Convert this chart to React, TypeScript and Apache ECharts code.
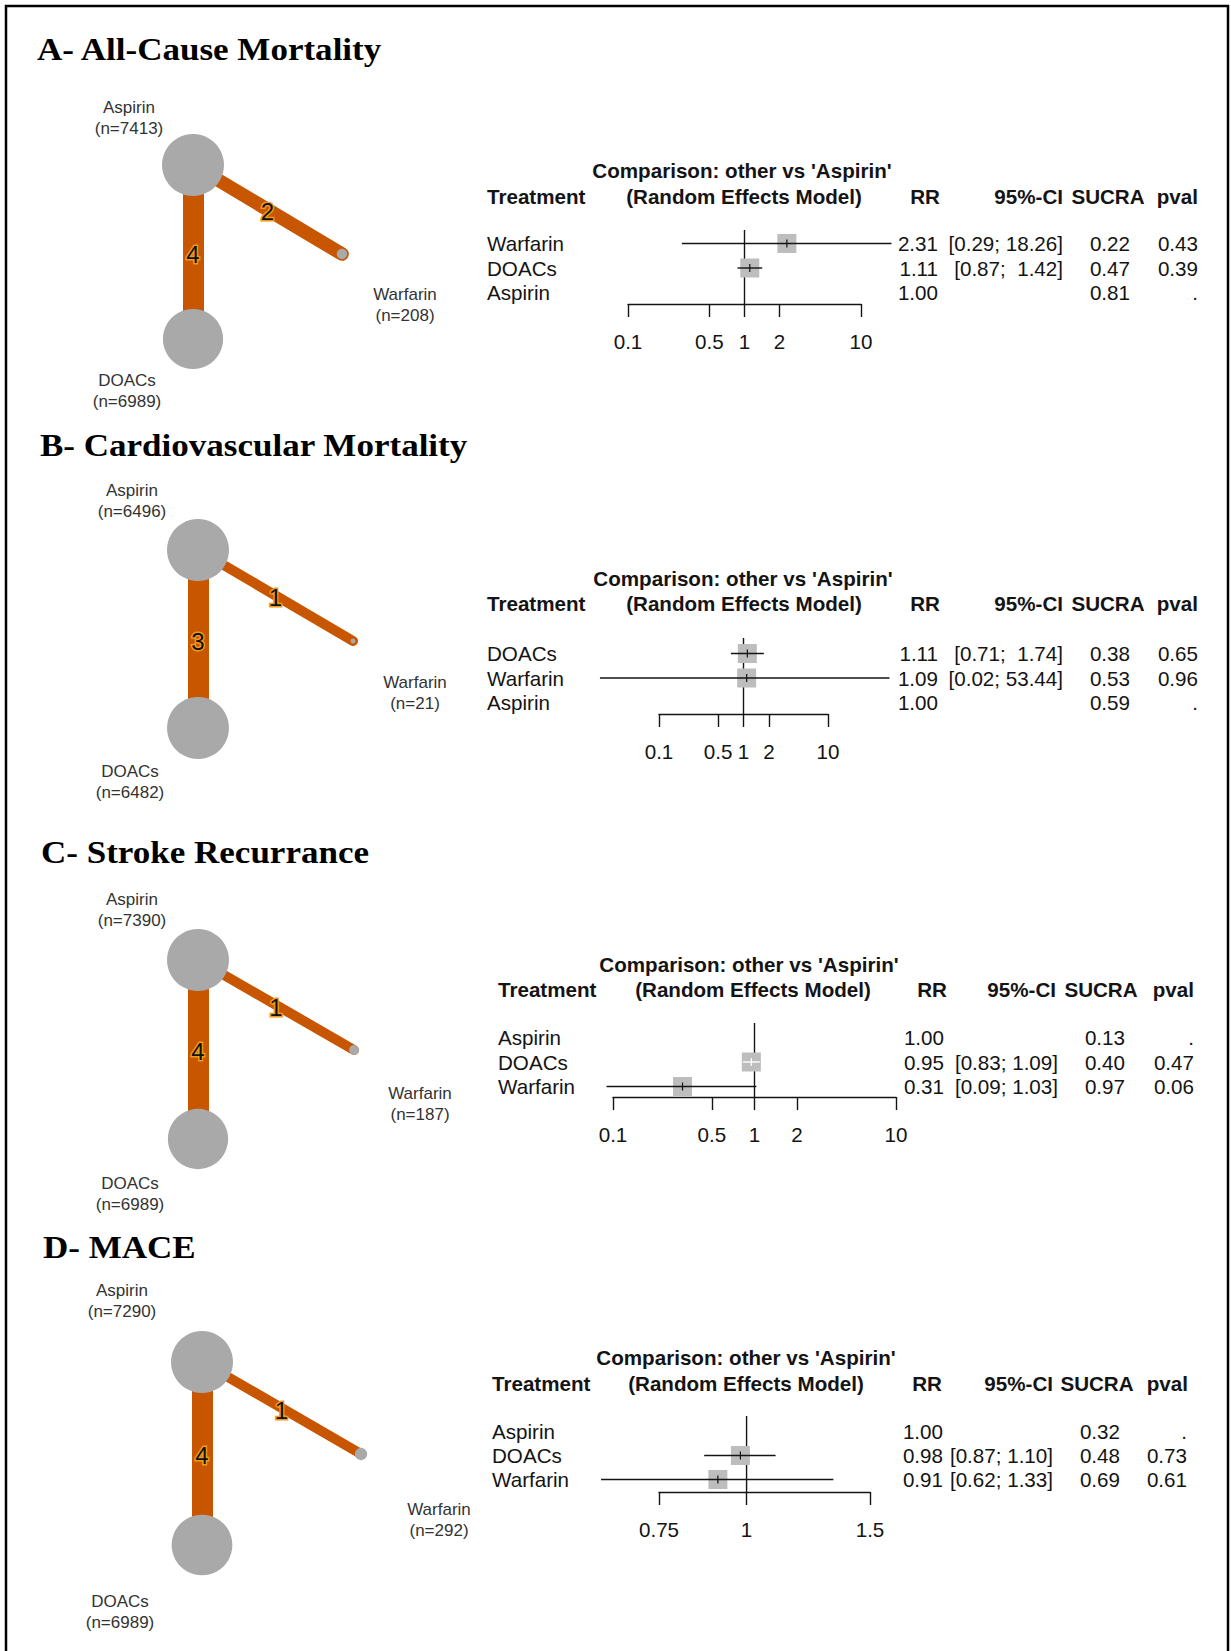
import React, { useEffect, useRef } from 'react';
import * as echarts from 'echarts';

// ---------------- DATA ----------------
const titles = ['A- All-Cause Mortality', 'B- Cardiovascular Mortality', 'C- Stroke Recurrance', 'D- MACE'];

// network graphs: nodes (Aspirin, DOACs, Warfarin) with sample sizes, edges with number of studies
const nodeNames = ['Aspirin', 'DOACs', 'Warfarin'];
const edgePairs = [[0, 1], [0, 2]];
const nA = [7413, 6989, 208];
const nB = [6496, 6482, 21];
const nC = [7390, 6989, 187];
const nD = [7290, 6989, 292];
const studiesA = [4, 2];
const studiesB = [3, 1];
const studiesC = [4, 1];
const studiesD = [4, 1];

// forest plots
const treatA = ['Warfarin', 'DOACs', 'Aspirin'];
const rrA = [2.31, 1.11, 1.0];
const loA = [0.29, 0.87, null];
const hiA = [18.26, 1.42, null];
const sucraA = [0.22, 0.47, 0.81];
const pvalA = [0.43, 0.39, null];

const treatB = ['DOACs', 'Warfarin', 'Aspirin'];
const rrB = [1.11, 1.09, 1.0];
const loB = [0.71, 0.02, null];
const hiB = [1.74, 53.44, null];
const sucraB = [0.38, 0.53, 0.59];
const pvalB = [0.65, 0.96, null];

const treatC = ['Aspirin', 'DOACs', 'Warfarin'];
const rrC = [1.0, 0.95, 0.31];
const loC = [null, 0.83, 0.09];
const hiC = [null, 1.09, 1.03];
const sucraC = [0.13, 0.4, 0.97];
const pvalC = [null, 0.47, 0.06];

const treatD = ['Aspirin', 'DOACs', 'Warfarin'];
const rrD = [1.0, 0.98, 0.91];
const loD = [null, 0.87, 0.62];
const hiD = [null, 1.1, 1.33];
const sucraD = [0.32, 0.48, 0.69];
const pvalD = [null, 0.73, 0.61];

const ticksABC = [0.1, 0.5, 1, 2, 10];
const ticksD = [0.75, 1, 1.5];

const headerComp = "Comparison: other vs 'Aspirin'";
const headerModel = '(Random Effects Model)';

// ---------------- LAYOUT ----------------
const SANS = '"Liberation Sans", Arial, Helvetica, sans-serif';
const SERIF = '"Liberation Serif", "Times New Roman", Times, serif';
const EDGE = '#C85500';
const NODE = '#A9A9A9';
const INK = '#141414';
const FS = 20.6;

const LAYOUT = [
  {
    titleX: 37, titleY: 50,
    nodes: [[193, 165], [193, 339], [342, 254]],
    labelOff: [[-64, -47], [-66, 52], [63, 51]],
    compX: 742, compY: 170, headY: 196, labelX: 487, remX: 744,
    rowY0: 243.5, pitch: 24.5, refTop: 230, axisY: 304, ax0: 628, ax1: 861,
    rrR: 938, rrH: 940, ciR: 1063, ciH: 1063, suR: 1130, suH: 1108, pR: 1198, pH: 1198,
  },
  {
    titleX: 40, titleY: 446,
    nodes: [[198, 550], [198, 728], [353, 641]],
    labelOff: [[-66, -49], [-68, 54], [62, 52]],
    compX: 743, compY: 578, headY: 603, labelX: 487, remX: 744,
    rowY0: 653.5, pitch: 24.5, refTop: 638, axisY: 714, ax0: 659, ax1: 828,
    rrR: 938, rrH: 940, ciR: 1063, ciH: 1063, suR: 1130, suH: 1108, pR: 1198, pH: 1198,
  },
  {
    titleX: 41, titleY: 853,
    nodes: [[198, 960], [198, 1139], [354, 1050]],
    labelOff: [[-66, -50], [-68, 55], [66, 54]],
    compX: 749, compY: 964, headY: 989, labelX: 498, remX: 753,
    rowY0: 1037.5, pitch: 24.5, refTop: 1023, axisY: 1097, ax0: 613, ax1: 896,
    rrR: 944, rrH: 947, ciR: 1058, ciH: 1056, suR: 1125, suH: 1101, pR: 1194, pH: 1194,
  },
  {
    titleX: 43, titleY: 1248,
    nodes: [[202, 1362], [202, 1545], [361, 1454]],
    labelOff: [[-80, -61], [-82, 67], [78, 66]],
    compX: 746, compY: 1357, headY: 1383, labelX: 492, remX: 746,
    rowY0: 1431.5, pitch: 24, refTop: 1416, axisY: 1492, ax0: 659, ax1: 870,
    rrR: 943, rrH: 942, ciR: 1053, ciH: 1053, suR: 1120, suH: 1097, pR: 1187, pH: 1188,
  },
];

const NETS = [
  { n: nA, studies: studiesA },
  { n: nB, studies: studiesB },
  { n: nC, studies: studiesC },
  { n: nD, studies: studiesD },
];

const FORESTS = [
  { treat: treatA, rr: rrA, lo: loA, hi: hiA, sucra: sucraA, pval: pvalA, ticks: ticksABC },
  { treat: treatB, rr: rrB, lo: loB, hi: hiB, sucra: sucraB, pval: pvalB, ticks: ticksABC },
  { treat: treatC, rr: rrC, lo: loC, hi: hiC, sucra: sucraC, pval: pvalC, ticks: ticksABC },
  { treat: treatD, rr: rrD, lo: loD, hi: hiD, sucra: sucraD, pval: pvalD, ticks: ticksD },
];

const lg = (v: number) => Math.log10(v);

function ciStrings(lo: (number | null)[], hi: (number | null)[]) {
  const loS = lo.map((v) => (v == null ? '' : v.toFixed(2)));
  const hiS = hi.map((v) => (v == null ? '' : v.toFixed(2)));
  const wl = Math.max(...loS.map((s) => s.length));
  const wh = Math.max(...hiS.map((s) => s.length));
  return lo.map((v, i) => (v == null ? '' : '[' + loS[i].padStart(wl, ' ') + '; ' + hiS[i].padStart(wh, ' ') + ']'));
}

function buildOption() {
  const graphic: any[] = [];
  const series: any[] = [];
  const grid: any[] = [];
  const xAxis: any[] = [];
  const yAxis: any[] = [];

  // outer frame
  graphic.push({
    type: 'rect', silent: true, z: 100,
    shape: { x: 6, y: 6, width: 1222, height: 1700 },
    style: { fill: 'none', stroke: '#000', lineWidth: 2.5 },
  });

  const txt = (text: string, x: number, y: number, align: string, opts: any = {}) => ({
    type: 'text', silent: true, z: 50,
    x, y, scaleX: opts.scaleX || 1,
    style: {
      text, x: 0, y: 0,
      align, textAlign: align, verticalAlign: 'middle', textVerticalAlign: 'middle',
      fill: opts.fill || INK,
      fontSize: opts.fontSize || FS,
      fontWeight: opts.fontWeight || 'normal',
      fontFamily: opts.fontFamily || SANS,
    },
  });

  LAYOUT.forEach((L, p) => {
    // title
    graphic.push(txt(titles[p], L.titleX, L.titleY, 'left', { fontSize: 31, fontWeight: 'bold', fontFamily: SERIF, fill: '#000', scaleX: 1.13 }));

    // ---- network graph ----
    const net = NETS[p];
    const nmax = Math.max(...net.n);
    const smax = Math.max(...net.studies);
    const xs = L.nodes.map((q) => q[0]);
    const ys = L.nodes.map((q) => q[1]);
    const minX = Math.min(...xs), maxX = Math.max(...xs);
    const minY = Math.min(...ys), maxY = Math.max(...ys);
    const nodeData: any[] = nodeNames.map((nm, i) => ({
      name: nm,
      x: L.nodes[i][0], y: L.nodes[i][1],
      symbolSize: Math.max(5, 62 * Math.sqrt(net.n[i] / nmax)),
      itemStyle: { color: NODE },
      label: {
        show: true, position: 'inside', offset: L.labelOff[i],
        formatter: nm + '\n(n=' + net.n[i] + ')',
        fontSize: 17, lineHeight: 21, color: '#333', fontFamily: SANS, align: 'center',
      },
    }));
    // invisible midpoint nodes carry the study-count labels
    edgePairs.forEach((pr, k) => {
      const a = L.nodes[pr[0]], b = L.nodes[pr[1]];
      nodeData.push({
        name: 'e' + k,
        x: (a[0] + b[0]) / 2, y: (a[1] + b[1]) / 2 + 2,
        symbolSize: 1,
        itemStyle: { color: 'rgba(0,0,0,0)' },
        label: {
          show: true, position: 'inside', formatter: String(net.studies[k]),
          fontSize: 24, color: '#111', fontFamily: SANS,
          textBorderColor: '#EE9A1C', textBorderWidth: 3,
        },
      });
    });
    series.push({
      type: 'graph', layout: 'none', silent: true,
      left: minX, top: minY, width: maxX - minX, height: maxY - minY,
      symbol: 'circle',
      emphasis: { disabled: true },
      data: nodeData,
      links: edgePairs.map((pr, k) => ({
        source: pr[0], target: pr[1],
        lineStyle: {
          width: smax > 1 ? 10 + (11 * (net.studies[k] - 1)) / (smax - 1) : 21,
          color: EDGE, opacity: 1, curveness: 0, cap: 'round',
        },
      })),
      lineStyle: { color: EDGE, opacity: 1, cap: 'round' },
      z: 3,
    });

    // ---- forest plot ----
    const F = FORESTS[p];
    const tmin = F.ticks[0], tmax = F.ticks[F.ticks.length - 1];
    const yMin = -(L.rowY0 - L.refTop) / L.pitch;
    const yMax = (L.axisY - L.rowY0) / L.pitch;
    grid.push({
      left: L.ax0, width: L.ax1 - L.ax0, top: L.refTop, height: L.axisY - L.refTop,
      containLabel: false, outerBoundsMode: 'none',
    });
    const tickLogs = F.ticks.map(lg);
    xAxis.push({
      type: 'value', gridIndex: p, min: lg(tmin), max: lg(tmax),
      axisLine: { show: true, onZero: false, lineStyle: { color: INK, width: 1.4 } },
      axisTick: { show: true, customValues: tickLogs, length: 13, lineStyle: { color: INK, width: 1.4 } },
      axisLabel: {
        show: true, customValues: tickLogs, margin: 27, hideOverlap: false,
        fontSize: FS, color: INK, fontFamily: SANS,
        formatter: (v: number) => {
          let best = F.ticks[0];
          F.ticks.forEach((t) => { if (Math.abs(lg(t) - v) < Math.abs(lg(best) - v)) best = t; });
          return String(best);
        },
      },
      splitLine: { show: false },
      minorTick: { show: false },
    });
    yAxis.push({ type: 'value', gridIndex: p, inverse: true, min: yMin, max: yMax, show: false });

    const ci = ciStrings(F.lo, F.hi);
    const data = F.treat.map((_, i) => {
      const e = lg(F.rr[i]);
      const lo = F.lo[i] == null ? e : lg(F.lo[i] as number);
      const hi = F.hi[i] == null ? e : lg(F.hi[i] as number);
      return [e, lo, hi, i];
    });

    series.push({
      type: 'custom', xAxisIndex: p, yAxisIndex: p, clip: false, silent: true,
      encode: { x: [0, 1, 2], y: 3 },
      data,
      renderItem: (params: any, api: any) => {
        const i = params.dataIndex;
        const row = api.value(3);
        const y = api.coord([0, row])[1];
        const ch: any[] = [];
        if (i === 0) {
          const top = api.coord([0, yMin]);
          const bot = api.coord([0, yMax]);
          ch.push({ type: 'line', shape: { x1: top[0], y1: top[1], x2: bot[0], y2: bot[1] }, style: { stroke: INK, lineWidth: 1.4 } });
        }
        if (F.lo[i] != null) {
          const ex = api.coord([api.value(0), row])[0];
          const lx = api.coord([api.value(1), row])[0];
          const hx = api.coord([api.value(2), row])[0];
          const s = 19;
          const c = hx - lx < s ? '#ffffff' : INK;
          ch.push({ type: 'rect', shape: { x: ex - s / 2, y: y - s / 2, width: s, height: s }, style: { fill: '#BDBDBD' } });
          ch.push({ type: 'line', shape: { x1: lx, y1: y, x2: hx, y2: y }, style: { stroke: c, lineWidth: 1.4 } });
          ch.push({ type: 'line', shape: { x1: ex, y1: y - 4, x2: ex, y2: y + 4 }, style: { stroke: c, lineWidth: 1.2 } });
        }
        const t = (text: string, x: number, align: string) => ({
          type: 'text',
          style: { text, x, y, align, verticalAlign: 'middle', fill: INK, fontSize: FS, fontFamily: SANS },
        });
        ch.push(t(F.treat[i], L.labelX, 'left'));
        ch.push(t(F.rr[i].toFixed(2), L.rrR, 'right'));
        if (ci[i]) ch.push(t(ci[i], L.ciR, 'right'));
        ch.push(t(F.sucra[i].toFixed(2), L.suR, 'right'));
        ch.push(t(F.pval[i] == null ? '.' : (F.pval[i] as number).toFixed(2), L.pR, 'right'));
        return { type: 'group', children: ch };
      },
      z: 4,
    });

    // headers
    graphic.push(txt(headerComp, L.compX, L.compY, 'center', { fontWeight: 'bold' }));
    graphic.push(txt('Treatment', L.labelX, L.headY, 'left', { fontWeight: 'bold' }));
    graphic.push(txt(headerModel, L.remX, L.headY, 'center', { fontWeight: 'bold' }));
    graphic.push(txt('RR', L.rrH, L.headY, 'right', { fontWeight: 'bold' }));
    graphic.push(txt('95%-CI', L.ciH, L.headY, 'right', { fontWeight: 'bold' }));
    graphic.push(txt('SUCRA', L.suH, L.headY, 'center', { fontWeight: 'bold' }));
    graphic.push(txt('pval', L.pH, L.headY, 'right', { fontWeight: 'bold' }));
  });

  return {
    animation: false,
    backgroundColor: '#ffffff',
    grid, xAxis, yAxis, series, graphic,
  };
}

export default function App() {
  const ref = useRef<HTMLDivElement>(null);
  useEffect(() => {
    if (!ref.current) return;
    const chart = echarts.init(ref.current, undefined, { renderer: 'svg', width: 1231, height: 1651 });
    chart.setOption(buildOption() as any);
    return () => chart.dispose();
  }, []);
  return (
    <div
      ref={ref}
      style={{ position: 'absolute', left: 0, top: 0, width: 1231, height: 1651, background: '#fff' }}
    />
  );
}
